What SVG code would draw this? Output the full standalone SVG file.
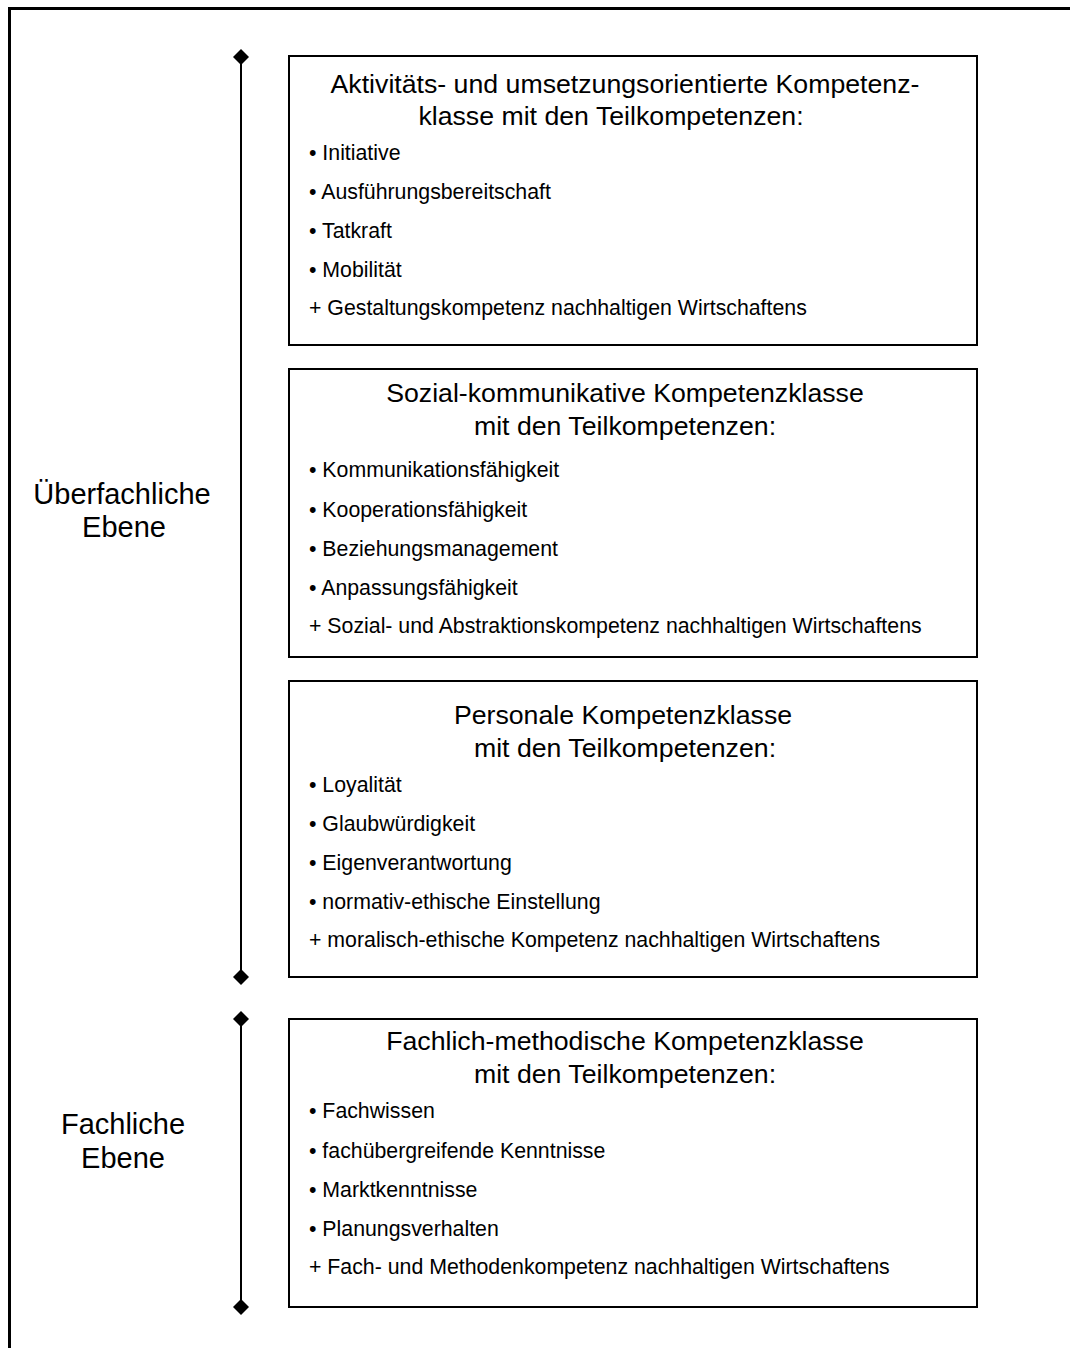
<svg xmlns="http://www.w3.org/2000/svg" width="1070" height="1348" viewBox="0 0 1070 1348">
  <defs>
    <marker id="dia" viewBox="-8 -8 16 16" markerWidth="16" markerHeight="16" markerUnits="userSpaceOnUse" refX="0" refY="0" orient="auto">
      <path d="M0,-8 L8,0 L0,8 L-8,0 Z" fill="#000"/>
    </marker>
  </defs>
  <style>
    text { font-family: "Liberation Sans", Arial, sans-serif; fill: #000; }
    .frame { fill: none; stroke: #000; stroke-width: 3; }
    .box { fill: #fff; stroke: #000; stroke-width: 2; }
    .title { font-size: 26.7px; text-anchor: middle; }
    .item { font-size: 21.3px; }
    .side { font-size: 29px; text-anchor: middle; }
    .span { stroke: #000; stroke-width: 2; fill: none; marker-start: url(#dia); marker-end: url(#dia); }
  </style>

  <rect width="1070" height="1348" fill="#fff"/>
  <!-- page frame (continues past the right and bottom edge) -->
  <rect class="frame" x="9.5" y="8.5" width="1100" height="1400"/>

  <!-- level brackets -->
  <g id="connectors">
    <line class="span" x1="241" y1="57" x2="241" y2="977"/>
    <line class="span" x1="241" y1="1019" x2="241" y2="1307"/>
  </g>

  <g id="label-ueberfachlich">
    <text class="side" x="122" y="504">Überfachliche</text>
    <text class="side" x="124" y="537">Ebene</text>
  </g>
  <g id="label-fachlich">
    <text class="side" x="123" y="1134">Fachliche</text>
    <text class="side" x="123" y="1168">Ebene</text>
  </g>

  <g id="box-aktivitaet">
    <rect class="box" x="289" y="56" width="688" height="289"/>
    <text class="title" x="625" y="93">Aktivitäts- und umsetzungsorientierte Kompetenz-</text>
    <text class="title" x="611" y="125">klasse mit den Teilkompetenzen:</text>
    <text class="item" x="309" y="160">• Initiative</text>
    <text class="item" x="309" y="199">• Ausführungsbereitschaft</text>
    <text class="item" x="309" y="238">• Tatkraft</text>
    <text class="item" x="309" y="277">• Mobilität</text>
    <text class="item" x="309" y="315">+ Gestaltungskompetenz nachhaltigen Wirtschaftens</text>
  </g>

  <g id="box-sozial">
    <rect class="box" x="289" y="369" width="688" height="288"/>
    <text class="title" x="625" y="402">Sozial-kommunikative Kompetenzklasse</text>
    <text class="title" x="625" y="435">mit den Teilkompetenzen:</text>
    <text class="item" x="309" y="477">• Kommunikationsfähigkeit</text>
    <text class="item" x="309" y="517">• Kooperationsfähigkeit</text>
    <text class="item" x="309" y="556">• Beziehungsmanagement</text>
    <text class="item" x="309" y="595">• Anpassungsfähigkeit</text>
    <text class="item" x="309" y="633">+ Sozial- und Abstraktionskompetenz nachhaltigen Wirtschaftens</text>
  </g>

  <g id="box-personal">
    <rect class="box" x="289" y="681" width="688" height="296"/>
    <text class="title" x="623" y="724">Personale Kompetenzklasse</text>
    <text class="title" x="625" y="757">mit den Teilkompetenzen:</text>
    <text class="item" x="309" y="792">• Loyalität</text>
    <text class="item" x="309" y="831">• Glaubwürdigkeit</text>
    <text class="item" x="309" y="870">• Eigenverantwortung</text>
    <text class="item" x="309" y="909">• normativ-ethische Einstellung</text>
    <text class="item" x="309" y="947">+ moralisch-ethische Kompetenz nachhaltigen Wirtschaftens</text>
  </g>

  <g id="box-fachlich">
    <rect class="box" x="289" y="1019" width="688" height="288"/>
    <text class="title" x="625" y="1050">Fachlich-methodische Kompetenzklasse</text>
    <text class="title" x="625" y="1083">mit den Teilkompetenzen:</text>
    <text class="item" x="309" y="1118">• Fachwissen</text>
    <text class="item" x="309" y="1158">• fachübergreifende Kenntnisse</text>
    <text class="item" x="309" y="1197">• Marktkenntnisse</text>
    <text class="item" x="309" y="1236">• Planungsverhalten</text>
    <text class="item" x="309" y="1274">+ Fach- und Methodenkompetenz nachhaltigen Wirtschaftens</text>
  </g>
</svg>
